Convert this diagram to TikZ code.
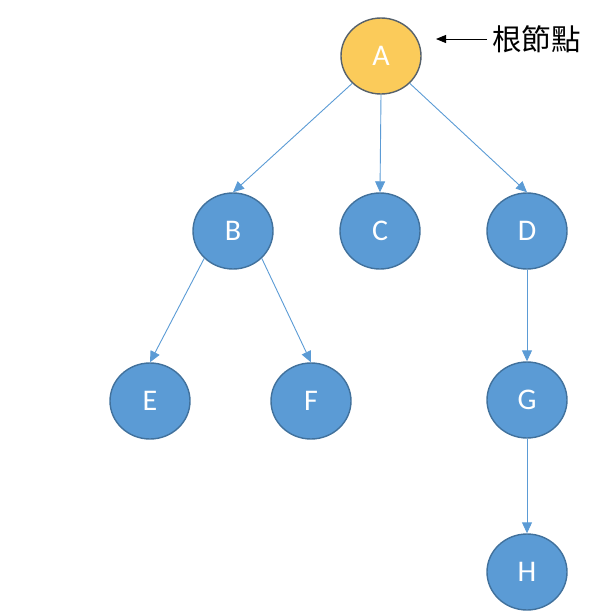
\documentclass[tikz,border=0pt]{standalone}
\usepackage{fontspec}
\setmainfont{Carlito}
\newfontfamily\cjk{Noto Sans CJK TC}
\usetikzlibrary{shapes.geometric,arrows.meta}
\definecolor{nodeblue}{HTML}{5B9BD5}
\definecolor{nodeborder}{HTML}{41719C}
\definecolor{rootfill}{HTML}{FBCB5A}
\definecolor{rootborder}{HTML}{56616B}
\definecolor{edgeblue}{HTML}{5B9BD5}
\tikzset{
  tnode/.style={ellipse, minimum width=80pt, minimum height=76pt, inner sep=0pt,
    fill=nodeblue, draw=nodeborder, line width=1.4pt, text=white,
    font=\fontsize{30}{32}\selectfont},
  rootnode/.style={tnode, fill=rootfill, draw=rootborder},
  edge/.style={draw=edgeblue, line width=0.9pt, -{Triangle[width=10pt,length=11pt]}},
  label/.style={font=\cjk\fontsize{29.5}{32}\selectfont, inner sep=0pt, anchor=west},
  pointer/.style={draw=black, line width=0.9pt, -{Triangle[width=8pt,length=10pt]}}
}
\begin{document}
\begin{tikzpicture}[x=1pt,y=-1pt]
\useasboundingbox (0,0) rectangle (613,611);
\node[rootnode] (A) at (381,56) {A};
\node[tnode] (B) at (233,231) {B};
\node[tnode] (C) at (380,231) {C};
\node[tnode] (D) at (527,231) {D};
\node[tnode] (E) at (150,401) {E};
\node[tnode] (F) at (311,401) {F};
\node[tnode] (G) at (527,400) {G};
\node[tnode] (H) at (527,572) {H};
\node[label] (L) at (492,39) {根節點};
\coordinate (P) at (487,39);
\coordinate (Q) at (436,39);
\draw[edge] (A.south west) -- (B.north);
\draw[edge] (A.south) -- (C.north);
\draw[edge] (A.south east) -- (D.north);
\draw[edge] (B.south west) -- (E.north);
\draw[edge] (B.south east) -- (F.north);
\draw[edge] (D.south) -- (G.north);
\draw[edge] (G.south) -- (H.north);
\draw[pointer] (P) -- (Q);
\end{tikzpicture}
\end{document}
